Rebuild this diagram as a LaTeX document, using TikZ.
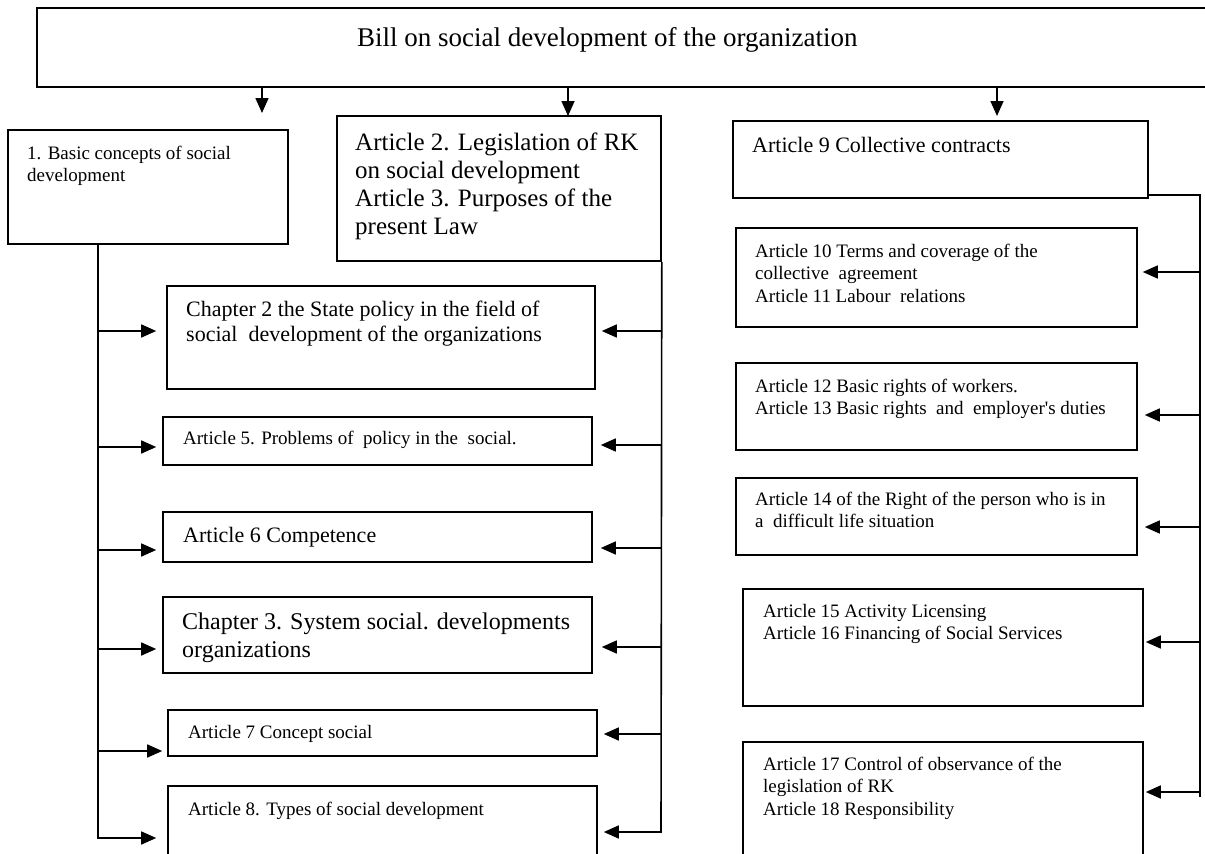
\documentclass[tikz,border=0pt]{standalone}
\usepackage{fontspec}
\setmainfont{Liberation Serif}
\usetikzlibrary{arrows.meta,fit}
\tikzset{
  box/.style={draw, line width=1.6pt, inner sep=0pt},
  ln/.style={line width=1.6pt},
  arr/.style={line width=1.6pt, -{Triangle[length=15pt,width=13pt]}},
  txt/.style={anchor=base west, align=left, inner sep=0pt},
  sm/.style={txt, font=\fontsize{19}{22.5}\selectfont},
  md/.style={txt, font=\fontsize{22}{25}\selectfont},
  lg/.style={txt, font=\fontsize{24}{28}\selectfont},
  xl/.style={txt, font=\fontsize{25}{28}\selectfont},
}
\begin{document}
\begin{tikzpicture}[x=1pt,y=-1pt]
\path[use as bounding box] (0,0) rectangle (1205,854);
\clip (0,0) rectangle (1205,854);

% top box
\node[box, fit={(37,8) (1215,87)}] (top) {};
\node[txt, font=\fontsize{27}{30}\selectfont] (title) at (357,46) {Bill on social development of the organization};

% left column
\node[box, fit={(8,130) (288,244)}] (b1) {};
\node[sm] (b1t) at (27,181.5) {1. Basic concepts of social\\development};

% middle column
\node[box, fit={(337,116) (661,261)}] (b2) {};
\node[xl] (b2t) at (355,234) {Article 2. Legislation of RK\\on social development\\Article 3. Purposes of the\\present Law};

\node[box, fit={(167,286) (595,389)}] (ch2) {};
\node[md] (ch2t) at (186,341) {Chapter 2 the State policy in the field of\\social\ \ development of the organizations};

\node[box, fit={(163,417) (592,465)}] (a5) {};
\node[sm] (a5t) at (183,444) {Article 5. Problems of\ \ policy in the\ \ social.};

\node[box, fit={(163,512) (592,562)}] (a6) {};
\node[md] (a6t) at (183,542) {Article 6 Competence};

\node[box, fit={(163,597) (592,673)}] (ch3) {};
\node[lg] (ch3t) at (182,657) {Chapter 3. System social. developments\\organizations};

\node[box, fit={(168,710) (597,756)}] (a7) {};
\node[sm] (a7t) at (188,738) {Article 7 Concept social};

\node[box, fit={(168,786) (597,880)}] (a8) {};
\node[sm] (a8t) at (188,815) {Article 8. Types of social development};

% right column
\node[box, fit={(733,121) (1148,198)}] (a9) {};
\node[md] (a9t) at (752,152) {Article 9 Collective contracts};

\node[box, fit={(736,228) (1137,327)}] (a10) {};
\node[sm] (a10t) at (755,302) {Article 10 Terms and coverage of the\\collective\ \ agreement\\Article 11 Labour\ \ relations};

\node[box, fit={(736,363) (1137,450)}] (a12) {};
\node[sm] (a12t) at (755,414.5) {Article 12 Basic rights of workers.\\Article 13 Basic rights\ \ and\ \ employer\textquotesingle s duties};

\node[box, fit={(736,478) (1137,555)}] (a14) {};
\node[sm] (a14t) at (755,527.5) {Article 14 of the Right of the person who is in\\a\ \ difficult life situation};

\node[box, fit={(743,589) (1143,706)}] (a15) {};
\node[sm] (a15t) at (763,639.5) {Article 15 Activity Licensing\\Article 16 Financing of Social Services};

\node[box, fit={(743,742) (1143,880)}] (a17) {};
\node[sm] (a17t) at (763,815) {Article 17 Control of observance of the\\legislation of RK\\Article 18 Responsibility};

% arrows from the top box
\coordinate (d1) at (262,113);
\coordinate (d2) at (568,116);
\coordinate (d3) at (997,116);
\draw[arr] (top.south -| d1) -- (d1);
\draw[arr] (top.south -| d2) -- (d2);
\draw[arr] (top.south -| d3) -- (d3);

% left trunk
\coordinate (l1) at (98,331);
\coordinate (l2) at (98,447);
\coordinate (l3) at (98,550);
\coordinate (l4) at (98,649);
\coordinate (l5) at (98,751);
\coordinate (l6) at (98,838);
\draw[arr] (b1.south -| l1) -- (l6) -- ([xshift=-11pt]a8.west |- l6);
\draw[arr] (l1) -- ([xshift=-10pt]ch2.west |- l1);
\draw[arr] (l2) -- ([xshift=-6pt]a5.west |- l2);
\draw[arr] (l3) -- ([xshift=-6pt]a6.west |- l3);
\draw[arr] (l4) -- ([xshift=-6pt]ch3.west |- l4);
\draw[arr] (l5) -- ([xshift=-5pt]a7.west |- l5);

% middle trunk
\coordinate (m1) at (661,331);
\coordinate (m2) at (661,445);
\coordinate (m3) at (661,548);
\coordinate (m4) at (661,647);
\coordinate (m5) at (661,734);
\coordinate (m6) at (661,832);
\draw[arr] (b2.south east) -- (m6) -- ([xshift=6pt]a8.east |- m6);
\draw[arr] (m1) -- ([xshift=6pt]ch2.east |- m1);
\draw[arr] (m2) -- ([xshift=8pt]a5.east |- m2);
\draw[arr] (m3) -- ([xshift=8pt]a6.east |- m3);
\draw[arr] (m4) -- ([xshift=9pt]ch3.east |- m4);
\draw[arr] (m5) -- ([xshift=6pt]a7.east |- m5);

% right trunk
\coordinate (r0) at (1200,195);
\coordinate (r1) at (1200,272);
\coordinate (r2) at (1200,415);
\coordinate (r3) at (1200,527);
\coordinate (r4) at (1200,642);
\coordinate (r5) at (1200,792);
\coordinate (rb) at (1200,797);
\draw[ln] (a9.east |- r0) -- (r0) -- (rb);
\draw[arr] (r1) -- ([xshift=5pt]a10.east |- r1);
\draw[arr] (r2) -- ([xshift=7pt]a12.east |- r2);
\draw[arr] (r3) -- ([xshift=7pt]a14.east |- r3);
\draw[arr] (r4) -- ([xshift=2pt]a15.east |- r4);
\draw[arr] (r5) -- ([xshift=2pt]a17.east |- r5);
\end{tikzpicture}
\end{document}
